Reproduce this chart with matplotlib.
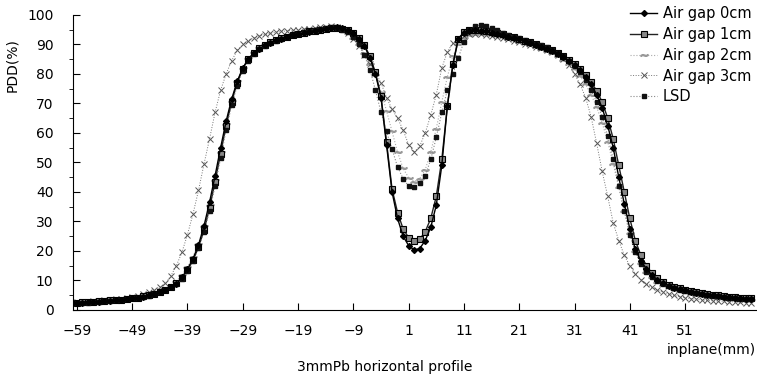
import matplotlib
matplotlib.use("Agg")
import matplotlib.pyplot as plt
from matplotlib.ticker import MultipleLocator

# position along the inplane axis (mm)
pos = list(range(-59, 64))

# PDD (%), one value per mm
gap0 = [2.4, 2.5, 2.6, 2.7, 2.8, 3.0, 3.1, 3.3, 3.5, 3.7, 3.9, 4.2, 4.5, 4.9, 5.4, 6.0, 6.8,
        7.8, 8.8, 11.0, 13.8, 17.3, 22.0, 28.5, 36.5, 45.5, 55.0, 64.0, 71.5, 77.5, 82.0, 85.0, 87.0, 88.5,
        89.7, 90.6, 91.4, 92.0, 92.6, 93.1, 93.5, 93.9, 94.3, 94.7, 95.0, 95.3, 95.6, 95.8, 95.6, 95.0,
        93.8, 92.0, 89.5, 85.5, 80.0, 72.0, 56.0, 40.0, 31.0, 25.0, 21.8, 20.3, 20.8, 23.5, 28.0, 35.5,
        49.0, 69.0, 83.0, 92.0, 94.0,
        94.6, 94.8, 94.7, 94.4, 94.0, 93.6, 93.2, 92.7, 92.2, 91.7, 91.1, 90.5, 89.9, 89.3, 88.6, 87.8,
        86.9, 85.8, 84.5, 83.0, 81.2, 79.0, 76.5, 73.0, 68.5, 62.5, 55.0, 45.0, 36.0, 27.5, 20.5, 16.5,
        14.0, 11.8, 10.2, 9.0, 8.2, 7.5, 7.0, 6.6, 6.2, 5.8, 5.5, 5.2, 4.9, 4.7, 4.5, 4.3, 4.1, 3.9,
        3.8, 3.7]

gap1 = [2.5, 2.6, 2.7, 2.8, 2.9, 3.0, 3.2, 3.3, 3.5, 3.7, 4.0, 4.2, 4.6, 5.0, 5.5, 6.1, 6.9,
        7.9, 9.0, 10.9, 13.5, 16.8, 21.2, 27.0, 34.5, 43.5, 53.0, 62.5, 70.5, 77.0, 81.8, 85.0, 87.2, 88.7,
        89.8, 90.7, 91.5, 92.1, 92.7, 93.2, 93.6, 94.0, 94.4, 94.7, 95.0, 95.3, 95.5, 95.6, 95.4, 94.9,
        93.8, 92.2, 89.8, 86.0, 80.5, 72.5, 57.0, 41.0, 33.0, 27.5, 24.5, 23.5, 24.0, 26.5, 31.0, 38.5,
        51.0, 69.0, 83.5, 92.0, 94.2,
        94.8, 95.0, 94.9, 94.6, 94.2, 93.8, 93.4, 92.9, 92.4, 91.9, 91.3, 90.7, 90.1, 89.5, 88.8, 88.0,
        87.1, 86.0, 84.8, 83.3, 81.6, 79.6, 77.3, 74.3, 70.5, 65.0, 58.0, 49.0, 40.0, 31.0, 23.5, 18.5,
        15.0, 12.5, 10.8, 9.5, 8.6, 7.9, 7.3, 6.8, 6.4, 6.0, 5.7, 5.4, 5.1, 4.9, 4.7, 4.5, 4.3, 4.1,
        4.0, 3.9]

gap2 = [2.5, 2.6, 2.7, 2.8, 2.9, 3.1, 3.2, 3.4, 3.6, 3.8, 4.1, 4.4, 4.7, 5.1, 5.7, 6.4, 7.3,
        8.4, 9.8, 11.8, 14.5, 18.0, 22.5, 28.3, 35.5, 44.0, 53.5, 63.0, 71.0, 77.5, 82.0, 85.3, 87.5, 89.0,
        90.1, 91.0, 91.8, 92.5, 93.1, 93.6, 94.1, 94.5, 94.9, 95.2, 95.5, 95.7, 95.8, 95.6, 95.0, 94.0,
        92.3, 90.0, 87.0, 83.5, 79.5, 74.0, 67.5, 60.5, 53.5, 48.0, 44.8, 43.5, 44.5, 47.5, 53.5, 61.5,
        70.5, 79.0, 86.0, 90.0, 92.3,
        93.3, 93.7, 93.7, 93.5, 93.2, 92.8, 92.4, 91.9, 91.4, 90.9, 90.4, 89.8, 89.2, 88.6, 87.9, 87.1,
        86.1, 84.9, 83.4, 81.6, 79.3, 76.5, 73.0, 68.8, 63.5, 57.0, 49.5, 41.5, 33.5, 26.0, 20.0, 15.8,
        13.0, 11.0, 9.6, 8.5, 7.7, 7.0, 6.4, 5.9, 5.5, 5.2, 4.9, 4.6, 4.4, 4.2, 4.0, 3.8, 3.6, 3.5,
        3.4, 3.3]

gap3 = [2.6, 2.7, 2.8, 2.9, 3.1, 3.2, 3.4, 3.6, 3.8, 4.1, 4.4, 4.8, 5.3, 5.9, 6.7, 7.7, 9.0,
        11.5, 15.0, 19.5, 25.5, 32.5, 40.5, 49.5, 58.0, 67.0, 74.5, 80.0, 84.5, 88.0, 90.0, 91.3, 92.2, 92.9,
        93.4, 93.8, 94.1, 94.4, 94.6, 94.8, 95.0, 95.2, 95.4, 95.6, 95.8, 96.0, 96.2, 96.0, 95.3, 94.0,
        92.0, 89.5, 86.5, 83.5, 80.5, 77.0, 72.0, 68.0, 65.0, 61.0, 56.0, 53.5, 55.5, 60.0, 66.0, 73.0,
        82.0, 87.5, 90.5, 92.0, 93.0,
        93.5, 93.7, 93.6, 93.3, 93.0, 92.6, 92.2, 91.8, 91.3, 90.8, 90.3, 89.8, 89.3, 88.7, 88.1, 87.4,
        86.5, 85.0, 83.0, 80.0, 76.5, 72.0, 65.5, 56.5, 47.0, 38.5, 29.5, 23.5, 18.5, 15.0, 12.3, 10.3,
        8.8, 7.6, 6.7, 6.0, 5.4, 4.9, 4.5, 4.1, 3.8, 3.6, 3.4, 3.2, 3.1, 3.0, 2.9, 2.8, 2.7, 2.6,
        2.5, 2.5]

lsd = [2.3, 2.4, 2.5, 2.6, 2.8, 2.9, 3.1, 3.2, 3.4, 3.6, 3.9, 4.1, 4.4, 4.8, 5.3, 5.9, 6.7,
       7.6, 8.8, 10.6, 13.2, 16.5, 21.0, 26.5, 33.5, 42.0, 51.5, 61.0, 69.5, 76.0, 81.0, 84.5, 86.8, 88.3,
       89.5, 90.5, 91.3, 92.0, 92.6, 93.2, 93.7, 94.2, 94.6, 95.0, 95.3, 95.6, 95.8, 95.5, 95.0, 94.2,
       92.5, 90.0, 86.5, 81.5, 74.5, 67.0, 60.5, 54.5, 48.5, 44.5, 42.0, 41.5, 43.0, 45.5, 51.0, 58.5,
       67.0, 74.5, 80.0, 85.5, 91.0,
       94.8, 96.3, 96.6, 96.2, 95.5, 94.8, 94.0, 93.3, 92.7, 92.1, 91.5, 90.9, 90.3, 89.7, 89.0, 88.2,
       87.2, 86.0, 84.5, 82.8, 80.5, 77.8, 74.5, 70.5, 65.5, 59.0, 51.0, 42.0, 33.5, 25.5, 19.5, 15.5,
       13.0, 11.2, 9.8, 8.8, 8.0, 7.3, 6.8, 6.3, 5.9, 5.6, 5.3, 5.0, 4.8, 4.6, 4.4, 4.2, 4.0, 3.8,
       3.7, 3.6]

x_ticks = [-59, -49, -39, -29, -19, -9, 1, 11, 21, 31, 41, 51]

fig = plt.figure(figsize=(7.57, 3.84), dpi=100)
ax = fig.add_axes([0.0964, 0.193, 0.9036, 0.768])

ax.plot(pos, gap0, color="black", lw=1.0, marker="D", ms=3, mfc="black", mec="black",
        label="Air gap 0cm", zorder=5)
ax.plot(pos, gap1, color="#222222", lw=1.0, marker="s", ms=4, mfc="#888888", mec="black", mew=0.8,
        label="Air gap 1cm", zorder=4)
ax.plot(pos, gap2, color="#aaaaaa", lw=0.8, ls=":", marker=r"$\sim$", ms=5, mfc="#999999", mec="#999999",
        label="Air gap 2cm", zorder=2)
ax.plot(pos, gap3, color="#777777", lw=0.7, ls=":", marker="x", ms=4, mew=0.7, mec="#555555",
        label="Air gap 3cm", zorder=3)
ax.plot(pos, lsd, color="#888888", lw=0.8, ls=":", marker="s", ms=2.5, mfc="#111111", mec="#111111",
        label="LSD", zorder=4)

ax.set_xlim(-59.7, 64)
ax.set_ylim(0, 100)
ax.set_xticks(x_ticks)
ax.yaxis.set_major_locator(MultipleLocator(10))
ax.yaxis.set_minor_locator(MultipleLocator(5))
ax.tick_params(axis="both", direction="in", labelsize=10)
ax.tick_params(axis="y", which="major", length=5, pad=14)
ax.tick_params(axis="y", which="minor", length=3)
ax.tick_params(axis="x", length=5, pad=10)
ax.spines["top"].set_visible(False)
ax.spines["right"].set_visible(False)

ax.set_ylabel("PDD(%)", fontsize=10)
ax.yaxis.set_label_coords(-0.078, 0.83)

fig.text(0.508, 0.025, "3mmPb horizontal profile", ha="center", va="bottom", fontsize=10)
fig.text(0.999, 0.07, "inplane(mm)", ha="right", va="bottom", fontsize=10)

ax.legend(loc="upper right", bbox_to_anchor=(1.0, 1.05), frameon=False, fontsize=10.5,
          handlelength=1.8, labelspacing=0.4, borderaxespad=0, handletextpad=0.4)

fig.savefig("out.png", dpi=100)
